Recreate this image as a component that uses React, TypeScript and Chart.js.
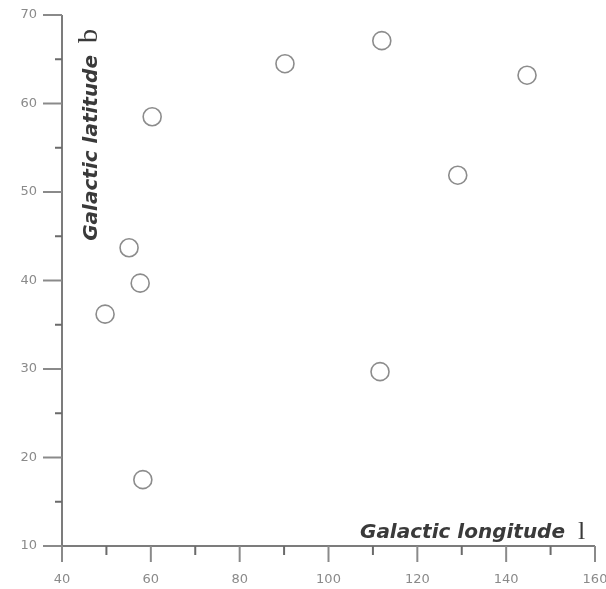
import { useEffect, useRef } from 'react';
import { Chart, registerables } from 'chart.js';

Chart.register(...registerables);

const longitudes = [90.2, 112.0, 144.7, 60.3, 129.1, 55.1, 57.6, 49.7, 111.6, 58.2];
const latitudes = [64.5, 67.1, 63.2, 58.5, 51.9, 43.7, 39.7, 36.2, 29.7, 17.5];
const xMajorTicks = [40, 60, 80, 100, 120, 140, 160];
const xMinorTicks = [50, 70, 90, 110, 130, 150];
const yMajorTicks = [10, 20, 30, 40, 50, 60, 70];
const yMinorTicks = [15, 25, 35, 45, 55, 65];
const xTitle = 'Galactic longitude';
const xSymbol = 'l';
const yTitle = 'Galactic latitude';
const ySymbol = 'b';

const axesPlugin = {
  id: 'customAxes',
  afterDraw(chart: any) {
    const { ctx, chartArea } = chart;
    const xs = chart.scales.x;
    const ys = chart.scales.y;
    const ax = chartArea.left;
    const ay = chartArea.bottom;
    const line = (x1: number, y1: number, x2: number, y2: number) => {
      ctx.beginPath();
      ctx.moveTo(x1, y1);
      ctx.lineTo(x2, y2);
      ctx.stroke();
    };
    ctx.save();
    ctx.lineWidth = 2;
    ctx.strokeStyle = '#7c7c7c';
    line(ax, chartArea.top, ax, ay);
    line(ax, ay, chartArea.right, ay);
    ctx.strokeStyle = '#8a8a8a';
    xs.ticks.forEach((t: any) => {
      const px = xs.getPixelForValue(t.value);
      line(px, ay, px, ay + 16);
    });
    ys.ticks.forEach((t: any) => {
      const py = ys.getPixelForValue(t.value);
      line(ax - 19, py, ax, py);
    });
    ctx.strokeStyle = '#6a6a6a';
    xMinorTicks.forEach((v) => {
      const px = xs.getPixelForValue(v);
      line(px, ay, px, ay + 9);
    });
    yMinorTicks.forEach((v) => {
      const py = ys.getPixelForValue(v);
      line(ax - 7, py, ax, py);
    });

    // axis titles
    ctx.fillStyle = '#3a3a3a';
    ctx.textBaseline = 'alphabetic';
    ctx.font = 'italic bold 20px "DejaVu Sans"';
    ctx.textAlign = 'right';
    ctx.fillText(xTitle, chartArea.right - 30, ay - 8);
    ctx.font = '26px "Liberation Serif"';
    ctx.textAlign = 'left';
    ctx.fillText(xSymbol, chartArea.right - 17, ay - 7);
    ctx.translate(ax + 35, chartArea.top + 40);
    ctx.rotate(-Math.PI / 2);
    ctx.font = 'italic bold 20px "DejaVu Sans"';
    ctx.textAlign = 'right';
    ctx.fillText(yTitle, 0, 0);
    ctx.font = '28px "Liberation Serif"';
    ctx.textAlign = 'left';
    ctx.fillText(ySymbol, 12, 0);
    ctx.restore();
  },
};

export default function App() {
  const ref = useRef<HTMLCanvasElement | null>(null);
  useEffect(() => {
    document.body.style.margin = '0';
    const canvas = ref.current;
    if (!canvas) return;
    const chart = new Chart(canvas, {
      type: 'scatter',
      data: {
        datasets: [
          {
            data: longitudes.map((x, i) => ({ x, y: latitudes[i] })),
            pointStyle: 'circle',
            pointRadius: 9,
            pointHoverRadius: 9,
            pointBorderWidth: 1.6,
            borderColor: '#8c8c8c',
            backgroundColor: 'rgba(0,0,0,0)',
          },
        ],
      },
      options: {
        animation: false,
        responsive: false,
        devicePixelRatio: 1,
        layout: { padding: { top: 15, right: 11, left: 0, bottom: 0 } },
        plugins: { legend: { display: false }, tooltip: { enabled: false } },
        scales: {
          x: {
            type: 'linear',
            min: 40,
            max: 160,
            afterBuildTicks: (s: any) => {
              s.ticks = xMajorTicks.map((v) => ({ value: v }));
            },
            afterFit: (s: any) => {
              s.height = 43;
              s.paddingLeft = 0;
              s.paddingRight = 0;
            },
            grid: { display: true, drawOnChartArea: false, drawTicks: true, tickLength: 16, color: 'rgba(0,0,0,0)' },
            border: { display: false },
            ticks: {
              padding: 10,
              color: '#8a8a8a',
              font: { family: '"DejaVu Sans"', size: 13 },
              maxRotation: 0,
              autoSkip: false,
            },
          },
          y: {
            type: 'linear',
            min: 10,
            max: 70,
            afterBuildTicks: (s: any) => {
              s.ticks = yMajorTicks.map((v) => ({ value: v }));
            },
            afterFit: (s: any) => {
              s.width = 62;
              s.paddingTop = 0;
              s.paddingBottom = 0;
            },
            grid: { display: true, drawOnChartArea: false, drawTicks: true, tickLength: 19, color: 'rgba(0,0,0,0)' },
            border: { display: false },
            ticks: {
              padding: 6,
              color: '#8a8a8a',
              font: { family: '"DejaVu Sans"', size: 13 },
              autoSkip: false,
            },
          },
        },
      },
      plugins: [axesPlugin],
    });
    return () => chart.destroy();
  }, []);
  return <canvas ref={ref} width={606} height={589} style={{ display: 'block', width: 606, height: 589 }} />;
}
